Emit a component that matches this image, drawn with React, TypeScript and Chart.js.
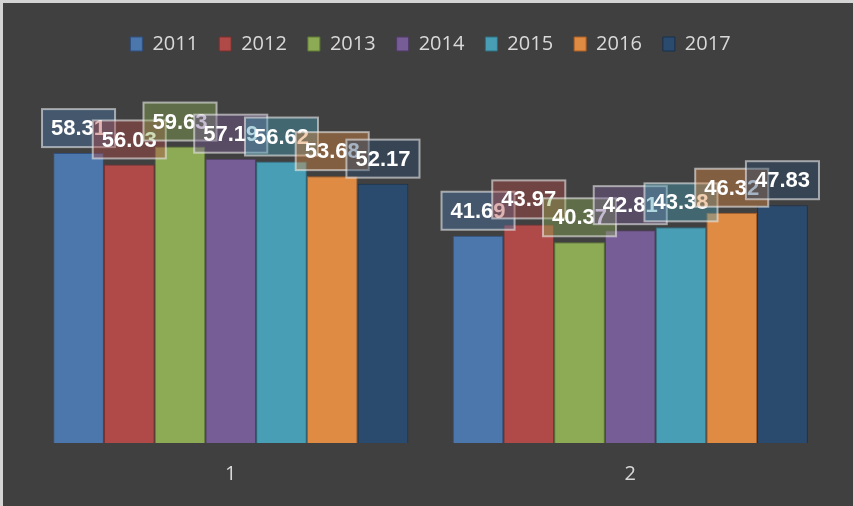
import React, { useEffect, useRef } from "react";
import { Chart, registerables } from "chart.js";

Chart.register(...registerables);

const categories = ["1", "2"];
const seriesNames = ["2011", "2012", "2013", "2014", "2015", "2016", "2017"];
const values2011 = [58.31, 41.69];
const values2012 = [56.03, 43.97];
const values2013 = [59.63, 40.37];
const values2014 = [57.19, 42.81];
const values2015 = [56.62, 43.38];
const values2016 = [53.68, 46.32];
const values2017 = [52.17, 47.83];
const seriesValues = [values2011, values2012, values2013, values2014, values2015, values2016, values2017];
const fillColors = ["#4B77AC", "#B04A48", "#8DAB55", "#775D95", "#479EB5", "#E08B44", "#2A4A6E"];
const edgeColors = ["#2F5080", "#7A2E2C", "#5E7A33", "#4F3C66", "#2E6E80", "#A85E22", "#17304D"];

const BG = "#404040";

function hexToRgba(hex: string, a: number) {
  const r = parseInt(hex.slice(1, 3), 16);
  const g = parseInt(hex.slice(3, 5), 16);
  const b = parseInt(hex.slice(5, 7), 16);
  return `rgba(${r},${g},${b},${a})`;
}

const bgPlugin = {
  id: "bgPlugin",
  beforeDraw(chart: any) {
    const { ctx, width, height } = chart;
    ctx.save();
    ctx.fillStyle = "#d4d4d4";
    ctx.fillRect(0, 0, width, height);
    ctx.fillStyle = BG;
    ctx.fillRect(3, 3, width - 3, height - 3);
    ctx.restore();
  },
};

const legendSpacer = {
  id: "legendSpacer",
  beforeInit(chart: any) {
    const legend = chart.legend;
    if (!legend) return;
    const origFit = legend.fit;
    legend.fit = function () {
      origFit.bind(legend)();
      legend.height += 31;
    };
  },
};

const labelPlugin = {
  id: "labelPlugin",
  afterDatasetsDraw(chart: any) {
    const ctx = chart.ctx;
    ctx.save();
    ctx.font = "bold 22px 'Liberation Sans', Arial, sans-serif";
    ctx.textAlign = "center";
    ctx.textBaseline = "middle";
    chart.data.datasets.forEach((ds: any, i: number) => {
      const meta = chart.getDatasetMeta(i);
      meta.data.forEach((bar: any, j: number) => {
        const txt = ds.data[j].toFixed(2);
        const tw = ctx.measureText(txt).width;
        const w = tw + 18;
        const h = 38;
        const bottom = bar.y - 6;
        const x = bar.x - w / 2;
        const y = bottom - h;
        ctx.fillStyle = hexToRgba(fillColors[i], 0.42);
        ctx.fillRect(x, y, w, h);
        ctx.strokeStyle = "rgba(235,235,235,0.6)";
        ctx.lineWidth = 2;
        ctx.strokeRect(x, y, w, h);
        ctx.fillStyle = "#ffffff";
        ctx.fillText(txt, bar.x, y + h / 2 + 1);
      });
    });
    ctx.restore();
  },
};

export default function App() {
  const ref = useRef<HTMLCanvasElement | null>(null);
  useEffect(() => {
    document.body.style.margin = "0";
    const chart = new Chart(ref.current as HTMLCanvasElement, {
      type: "bar",
      data: {
        labels: categories,
        datasets: seriesNames.map((name, i) => ({
          label: name,
          data: seriesValues[i],
          backgroundColor: fillColors[i],
          borderColor: edgeColors[i],
          borderWidth: 1,
          categoryPercentage: 0.889,
          barPercentage: 1,
        })),
      },
      options: {
        responsive: false,
        animation: false,
        maintainAspectRatio: false,
        layout: { padding: { left: 31, right: 23, top: 13, bottom: 1 } },
        plugins: {
          tooltip: { enabled: false },
          legend: {
            display: true,
            position: "top",
            labels: {
              color: "#d9d9d9",
              font: { size: 20, family: "'Open Sans', sans-serif" },
              boxWidth: 12,
              boxHeight: 14,
              padding: 21,
            },
          },
        },
        scales: {
          x: {
            grid: { display: false, drawTicks: false },
            border: { display: false },
            ticks: {
              color: "#d9d9d9",
              font: { size: 20, family: "'Open Sans', sans-serif", lineHeight: 1.0 },
              padding: 21,
            },
          },
          y: {
            display: false,
            min: 0,
            max: 70,
          },
        },
      },
      plugins: [bgPlugin, legendSpacer, labelPlugin],
    });
    return () => chart.destroy();
  }, []);
  return (
    <div style={{ width: 853, height: 506 }}>
      <canvas ref={ref} width={853} height={506} style={{ display: "block" }} />
    </div>
  );
}
